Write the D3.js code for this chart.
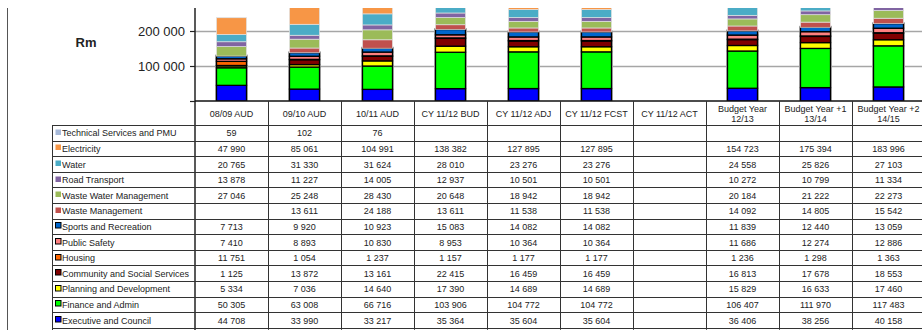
<!DOCTYPE html>
<html>
<head>
<meta charset="utf-8">
<script src="https://cdn.jsdelivr.net/npm/d3@7"></script>
<style>
  body { margin: 0; background: #fff; }
  svg { display: block; font-family: "Liberation Sans", Arial, sans-serif; }
</style>
</head>
<body>
<svg id="chart" width="922" height="330"></svg>
<script>
// Reporting periods (columns); "\n" splits a header over two lines
const periods = [
  "08/09 AUD", "09/10 AUD", "10/11 AUD", "CY 11/12 BUD", "CY  11/12 ADJ",
  "CY 11/12 FCST", "CY 11/12 ACT", "Budget Year\n12/13", "Budget Year +1\n13/14", "Budget Year +2\n14/15"
];

// Functions, listed from the bottom of each stack upwards
const seriesNames = [
  "Executive and Council", "Finance and Admin", "Planning and Development",
  "Community and Social Services", "Housing", "Public Safety", "Sports and Recreation",
  "Waste Management", "Waste Water Management", "Road Transport", "Water",
  "Electricity", "Technical Services and PMU"
];
const seriesColors = [
  "#0000ff", "#00ff00", "#ffff00", "#800000", "#ff6600", "#ff8080", "#0066cc",
  "#c0504d", "#9bbb59", "#8064a2", "#4bacc6", "#f79646", "#a7b9d9"
];
// functions drawn with a black outline
const outlined = [true, true, true, true, true, true, true, false, false, false, false, false, false];

// Values in Rm thousands (null = no figure)
const executive    = [44708, 33990, 33217, 35364, 35604, 35604, null, 36406, 38256, 40158];
const finance      = [50305, 63008, 66716, 103906, 104772, 104772, null, 106407, 111970, 117483];
const planning     = [5334, 7036, 14640, 17390, 14689, 14689, null, 15829, 16633, 17460];
const community    = [1125, 13872, 13161, 22415, 16459, 16459, null, 16813, 17678, 18553];
const housing      = [11751, 1054, 1237, 1157, 1177, 1177, null, 1236, 1298, 1363];
const publicSafety = [7410, 8893, 10830, 8953, 10364, 10364, null, 11686, 12274, 12886];
const sports       = [7713, 9920, 10923, 15083, 14082, 14082, null, 11839, 12440, 13059];
const wasteMgmt    = [null, 13611, 24188, 13611, 11538, 11538, null, 14092, 14805, 15542];
const wasteWater   = [27046, 25248, 28430, 20648, 18942, 18942, null, 20184, 21222, 22273];
const road         = [13878, 11227, 14005, 12937, 10501, 10501, null, 10272, 10799, 11334];
const water        = [20765, 31330, 31624, 28010, 23276, 23276, null, 24558, 25826, 27103];
const electricity  = [47990, 85061, 104991, 138382, 127895, 127895, null, 154723, 175394, 183996];
const technical    = [59, 102, 76, null, null, null, null, null, null, null];

const seriesValues = [executive, finance, planning, community, housing, publicSafety, sports,
  wasteMgmt, wasteWater, road, water, electricity, technical];

const yTicks = [0, 100000, 200000];
const yLabel = "Rm";

// ---- layout ----
const svg = d3.select("#chart");
const plotLeft = 195, plotTop = 8, plotBottom = 101, colW = 73;
const headerBottom = 125, rowH = 15.6, labelLeft = 52, frameX = 7.5;

const locale = d3.formatLocale({ decimal: ".", thousands: " ", grouping: [3], currency: ["", ""] });
const fmt = locale.format(",d");

const x = d3.scaleBand().domain(periods).range([plotLeft, plotLeft + colW * periods.length]).paddingInner(0).paddingOuter(0);
const y = d3.scaleLinear().domain([0, 300000]).range([plotBottom, plotBottom - 105]);

// stacked layout built from the arrays
const rows = periods.map((p, i) => {
  const r = { period: p };
  seriesNames.forEach((n, s) => r[n] = seriesValues[s][i] || 0);
  return r;
});
const stacked = d3.stack().keys(seriesNames)(rows);

// frame line on the left
svg.append("line").attr("x1", frameX).attr("x2", frameX).attr("y1", plotTop).attr("y2", 330)
  .attr("stroke", "#555").attr("stroke-width", 1);

// gridlines
svg.append("g").selectAll("line").data(yTicks.filter(d => d > 0)).join("line")
  .attr("x1", plotLeft).attr("x2", 922)
  .attr("y1", d => Math.round(y(d)) + 0.5).attr("y2", d => Math.round(y(d)) + 0.5)
  .attr("stroke", "#a6a6a6").attr("stroke-width", 1.5);

// y axis
const yAxis = d3.axisLeft(y).tickValues(yTicks).tickSize(5).tickPadding(5)
  .tickFormat(d => d === 0 ? "" : fmt(d));
const ya = svg.append("g").attr("transform", `translate(${plotLeft},0)`).call(yAxis);
ya.select(".domain").remove();
ya.selectAll(".tick line").attr("stroke", "#222").attr("stroke-width", 1.2);
ya.selectAll(".tick text").attr("font-size", 13).attr("fill", "#222")
  .attr("font-family", "'Liberation Sans', Arial, sans-serif");
svg.append("line").attr("x1", plotLeft).attr("x2", plotLeft).attr("y1", plotTop).attr("y2", 330)
  .attr("stroke", "#222").attr("stroke-width", 1.5);

svg.append("text").attr("x", 86).attr("y", 47).attr("text-anchor", "middle")
  .attr("font-size", 13).attr("font-weight", "bold").attr("fill", "#222").text(yLabel);

// bars
svg.append("clipPath").attr("id", "plotClip").append("rect")
  .attr("x", plotLeft).attr("y", plotTop).attr("width", 922 - plotLeft).attr("height", plotBottom - plotTop);
const barW = 30;
const barsG = svg.append("g").attr("clip-path", "url(#plotClip)");
const segs = [];
stacked.forEach((layer, s) => layer.forEach((d, i) => {
  if (d[1] - d[0] > 0) segs.push({ s, period: periods[i], y0: d[0], y1: d[1] });
}));
// soft grey halo under the outlined segments
barsG.append("g").selectAll("rect").data(segs.filter(d => outlined[d.s])).join("rect")
  .attr("x", d => x(d.period) + (colW - barW) / 2)
  .attr("width", barW)
  .attr("y", d => y(d.y1)).attr("height", d => y(d.y0) - y(d.y1))
  .attr("fill", "none").attr("stroke", "#b4b4b4").attr("stroke-width", 3);
barsG.append("g").selectAll("rect").data(segs).join("rect")
  .attr("x", d => x(d.period) + (colW - barW) / 2)
  .attr("width", barW)
  .attr("y", d => y(d.y1)).attr("height", d => y(d.y0) - y(d.y1))
  .attr("fill", d => seriesColors[d.s])
  .attr("stroke", d => outlined[d.s] ? "#000" : "#e2e2e2")
  .attr("stroke-width", d => outlined[d.s] ? 1.3 : 0.7);

// x axis line
svg.append("line").attr("x1", plotLeft).attr("x2", 922).attr("y1", plotBottom).attr("y2", plotBottom)
  .attr("stroke", "#111").attr("stroke-width", 1.5);

// ---- data table ----
const table = svg.append("g");
const lineColor = "#333";
const nRows = seriesNames.length;
const tableBottom = headerBottom + rowH * nRows;

// column separators
table.selectAll("line.col").data(periods.slice(1).concat(["__end"])).join("line")
  .attr("class", "col")
  .attr("x1", (d, i) => Math.round(plotLeft + colW * (i + 1)) + 0.5)
  .attr("x2", (d, i) => Math.round(plotLeft + colW * (i + 1)) + 0.5)
  .attr("y1", plotBottom).attr("y2", tableBottom + 2)
  .attr("stroke", lineColor).attr("stroke-width", 1);
// label column left edge
table.append("line").attr("x1", labelLeft + 0.5).attr("x2", labelLeft + 0.5)
  .attr("y1", headerBottom).attr("y2", 330).attr("stroke", lineColor).attr("stroke-width", 1);
// row separators
d3.range(nRows + 1).forEach(r => {
  const yy = Math.round(headerBottom + rowH * r) + 0.5;
  table.append("line").attr("x1", labelLeft).attr("x2", 922).attr("y1", yy).attr("y2", yy)
    .attr("stroke", lineColor).attr("stroke-width", 1);
});

// header text
periods.forEach(p => {
  const parts = p.split("\n");
  const cx = x(p) + colW / 2;
  const t = table.append("text").attr("x", cx).attr("text-anchor", "middle")
    .attr("font-size", 9).attr("fill", "#222");
  if (parts.length === 1) {
    t.attr("y", 116.5).text(p);
  } else {
    t.append("tspan").attr("x", cx).attr("y", 111.5).text(parts[0]);
    t.append("tspan").attr("x", cx).attr("y", 122).text(parts[1]);
  }
});

// rows: top row is the last series
const rowOrder = d3.range(nRows).reverse();
rowOrder.forEach((s, r) => {
  const cy = headerBottom + rowH * r + rowH / 2;
  // legend key
  table.append("rect").attr("x", 55.5).attr("y", Math.round(cy - 3) - 0.5)
    .attr("width", 5.5).attr("height", 5.5)
    .attr("fill", seriesColors[s])
    .attr("stroke", outlined[s] ? "#000" : "none").attr("stroke-width", 1);
  table.append("text").attr("x", 62).attr("y", cy + 3.5)
    .attr("font-size", 9).attr("fill", "#222").text(seriesNames[s]);
  seriesValues[s].forEach((v, i) => {
    if (v == null) return;
    table.append("text").attr("x", x(periods[i]) + colW / 2).attr("y", cy + 3.5)
      .attr("text-anchor", "middle").attr("font-size", 9).attr("fill", "#222").text(fmt(v));
  });
});
</script>
</body>
</html>
